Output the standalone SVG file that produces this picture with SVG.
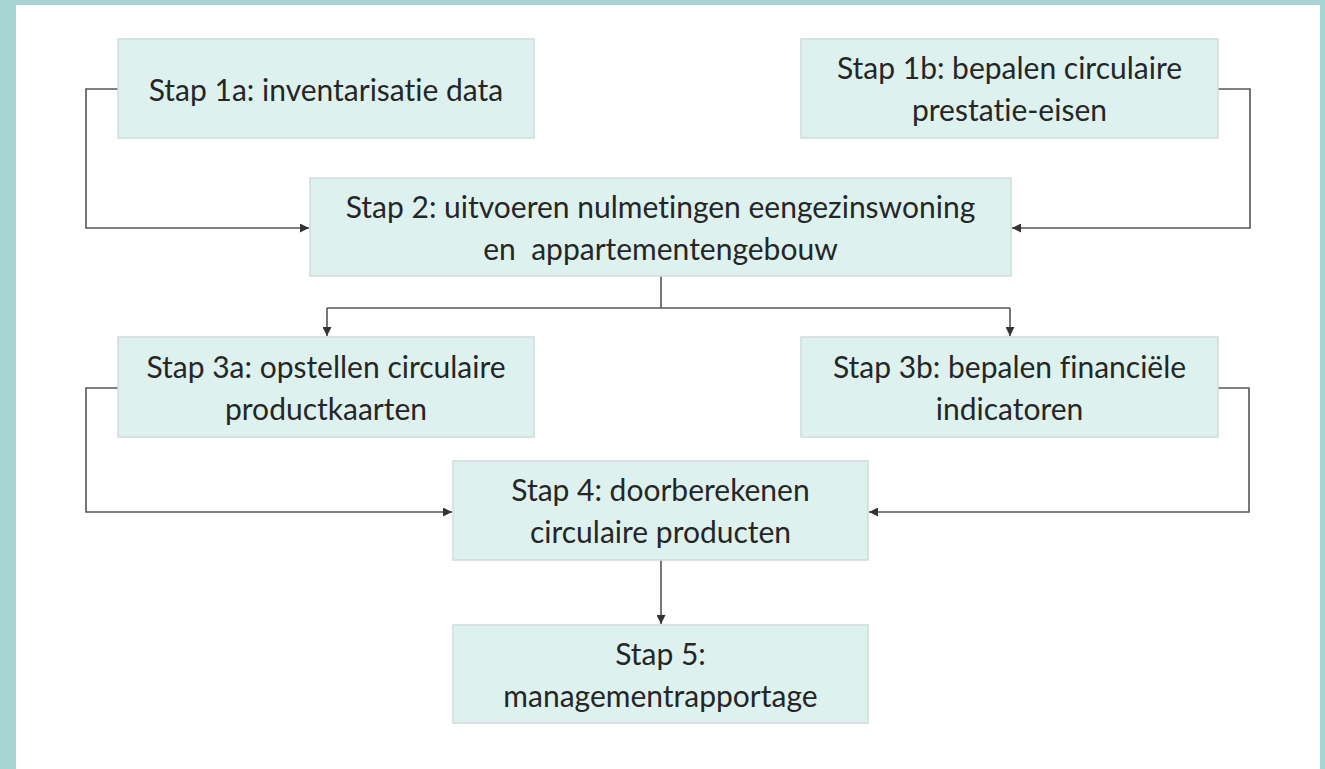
<svg xmlns="http://www.w3.org/2000/svg" width="1325" height="769" viewBox="0 0 1325 769">
<style>
.box{fill:#ddf2ef;stroke:#cfdcdb;stroke-width:1.5}
.t{font-family:Lato,"Open Sans","Liberation Sans",sans-serif;font-size:30px;fill:#262626;text-anchor:middle;font-variant-ligatures:none}
.c{fill:none;stroke:#555;stroke-width:1.6}
</style>
<defs>
<marker id="ah" viewBox="0 0 10 10" refX="10" refY="5" markerWidth="9" markerHeight="9" markerUnits="userSpaceOnUse" orient="auto">
<path d="M0,0 L10,5 L0,10 z" fill="#333"/>
</marker>
</defs>
<rect x="0" y="0" width="1325" height="769" fill="#a9d4d4"/>
<rect x="16" y="5" width="1304" height="764" fill="#ffffff"/>
<g id="connectors">
<path class="c" d="M118,89 H86 V228 H309" marker-end="url(#ah)"/>
<path class="c" d="M1218,89 H1250 V228 H1012" marker-end="url(#ah)"/>
<path class="c" d="M661,276 V308"/>
<path class="c" d="M327,308 H1010"/>
<path class="c" d="M327,308 V336" marker-end="url(#ah)"/>
<path class="c" d="M1010,308 V336" marker-end="url(#ah)"/>
<path class="c" d="M118,388 H86 V512 H452" marker-end="url(#ah)"/>
<path class="c" d="M1218,388 H1249 V512 H869" marker-end="url(#ah)"/>
<path class="c" d="M661,560 V624" marker-end="url(#ah)"/>
</g>
<g id="stap1a"><rect class="box" x="118" y="39" width="416" height="99"/><text class="t" x="326" y="101">Stap 1a: inventarisatie data</text></g>
<g id="stap1b"><rect class="box" x="801" y="39" width="417" height="99"/><text class="t" x="1009.5" y="79">Stap 1b: bepalen circulaire</text><text class="t" x="1009.5" y="121">prestatie-eisen</text></g>
<g id="stap2"><rect class="box" x="310" y="178" width="701" height="98"/><text class="t" x="660.5" y="218">Stap 2: uitvoeren nulmetingen eengezinswoning</text><text class="t" x="660.5" y="260" xml:space="preserve">en  appartementengebouw</text></g>
<g id="stap3a"><rect class="box" x="118" y="337" width="416" height="100"/><text class="t" x="326" y="378">Stap 3a: opstellen circulaire</text><text class="t" x="326" y="420">productkaarten</text></g>
<g id="stap3b"><rect class="box" x="801" y="337" width="417" height="100"/><text class="t" x="1009.5" y="378">Stap 3b: bepalen financiële</text><text class="t" x="1009.5" y="420">indicatoren</text></g>
<g id="stap4"><rect class="box" x="453" y="461" width="415" height="99"/><text class="t" x="660.5" y="501">Stap 4: doorberekenen</text><text class="t" x="660.5" y="543">circulaire producten</text></g>
<g id="stap5"><rect class="box" x="453" y="625" width="415" height="98"/><text class="t" x="660.5" y="665">Stap 5:</text><text class="t" x="660.5" y="707">managementrapportage</text></g>
</svg>
